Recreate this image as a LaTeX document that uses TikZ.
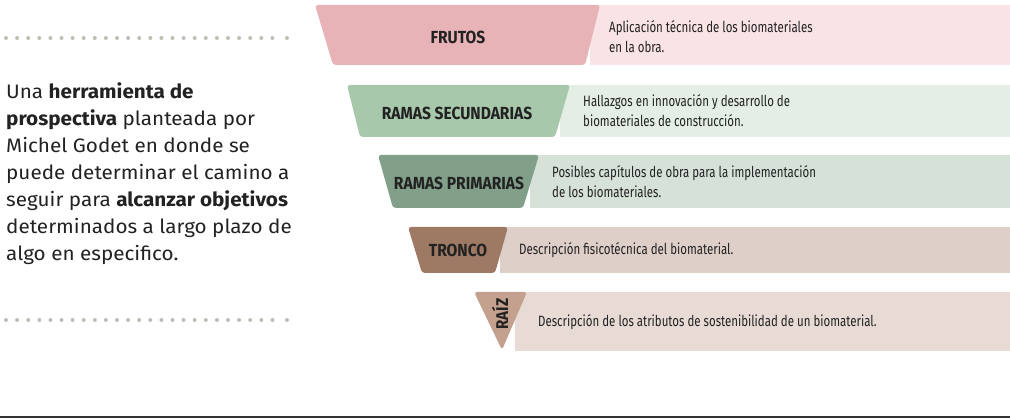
\documentclass[tikz,border=0pt]{standalone}
\usepackage{fontspec}
\setmainfont{Fira Sans}
\newfontfamily\introfont[FakeStretch=1.06]{Fira Sans}
\newfontfamily\condfont[FakeStretch=0.765]{Fira Sans}
\newfontfamily\condbold[FakeStretch=0.89]{Fira Sans}
\definecolor{fruD}{HTML}{E8B3B6}
\definecolor{fruL}{HTML}{F9E3E4}
\definecolor{secD}{HTML}{A8C8AC}
\definecolor{secL}{HTML}{E4EEE4}
\definecolor{priD}{HTML}{819F89}
\definecolor{priL}{HTML}{D6E2D8}
\definecolor{troD}{HTML}{9E7A65}
\definecolor{troL}{HTML}{DFCFC9}
\definecolor{raiD}{HTML}{C4A08E}
\definecolor{raiL}{HTML}{E8DBD6}
\definecolor{dotc}{HTML}{BBC0B4}
\definecolor{txt}{HTML}{222222}
\begin{document}
\begin{tikzpicture}[x=1pt,y=-1pt,
  lbl/.style={font=\condbold\bfseries\fontsize{17.5}{19}\selectfont, text=txt, inner sep=0pt},
  desc/.style={font=\condfont\fontsize{15}{20}\selectfont, anchor=west, align=left, text=txt, inner sep=0pt},
  dark/.style={rounded corners=3pt},
  dotdot/.style={fill=dotc}]
\useasboundingbox[fill=white] (0,0) rectangle (1010,419);
% dotted rules
\foreach \i in {0,...,24} {\fill[dotdot] (6+11.1*\i,38) circle (2);}
\fill[dotdot] (287,38) circle (2);
\foreach \i in {0,...,24} {\fill[dotdot] (6+11.1*\i,320) circle (2);}
\fill[dotdot] (287,320) circle (2);
% intro text
\node[anchor=north west, align=left, inner sep=0pt, text=txt,
      font=\introfont\fontsize{19.5}{27}\selectfont] (intro) at (6,82)
  {Una \textbf{herramienta de}\\
   \textbf{prospectiva} planteada por\\
   Michel Godet en donde se\\
   puede determinar el camino a\\
   seguir para \textbf{alcanzar objetivos}\\
   determinados a largo plazo de\\
   algo en especifico.};
% band 1
\fill[fruL] (590,5) rectangle (1010,65);
\fill[fruD,dark] (315,5) -- (600,5) -- (585,65) -- (333,65) -- cycle;
\node[lbl] (frutos) at (458,37) {FRUTOS};
\node[desc] (dfrutos) at (609,37) {Aplicación técnica de los biomateriales\\en la obra.};
% band 2
\fill[secL] (560,85) rectangle (1010,137);
\fill[secD,dark] (347,85) -- (570,85) -- (555,137) -- (360,137) -- cycle;
\node[lbl] (secund) at (457,113) {RAMAS SECUNDARIAS};
\node[desc] (dsecund) at (583,111) {Hallazgos en innovación y desarrollo de\\biomateriales de construcción.};
% band 3
\fill[priL] (530,155) rectangle (1010,208);
\fill[priD,dark] (378,155) -- (539,155) -- (523,208) -- (393,208) -- cycle;
\node[lbl] (prim) at (459,183) {RAMAS PRIMARIAS};
\node[desc] (dprim) at (552,182) {Posibles capítulos de obra para la implementación\\de los biomateriales.};
% band 4
\fill[troL] (500,227) rectangle (1010,273);
\fill[troD,dark] (408,227) -- (508,227) -- (495,273) -- (422,273) -- cycle;
\node[lbl] (tronco) at (458,250) {TRONCO};
\node[desc] (dtronco) at (519,250) {Descripción fisicotécnica del biomaterial.};
% band 5
\fill[raiL] (515,292) rectangle (1010,351);
\fill[raiD,dark] (474,292) -- (527,292) -- (502,350) -- cycle;
\node[lbl, rotate=90, font=\condbold\bfseries\fontsize{17}{19}\selectfont] (raiz) at (500,314) {RAÍZ};
\node[desc] (draiz) at (538,322) {Descripción de los atributos de sostenibilidad de un biomaterial.};
% bottom rule
\draw[line width=1.4pt, color=black!80] (0,417) -- (1010,417);
\end{tikzpicture}
\end{document}
